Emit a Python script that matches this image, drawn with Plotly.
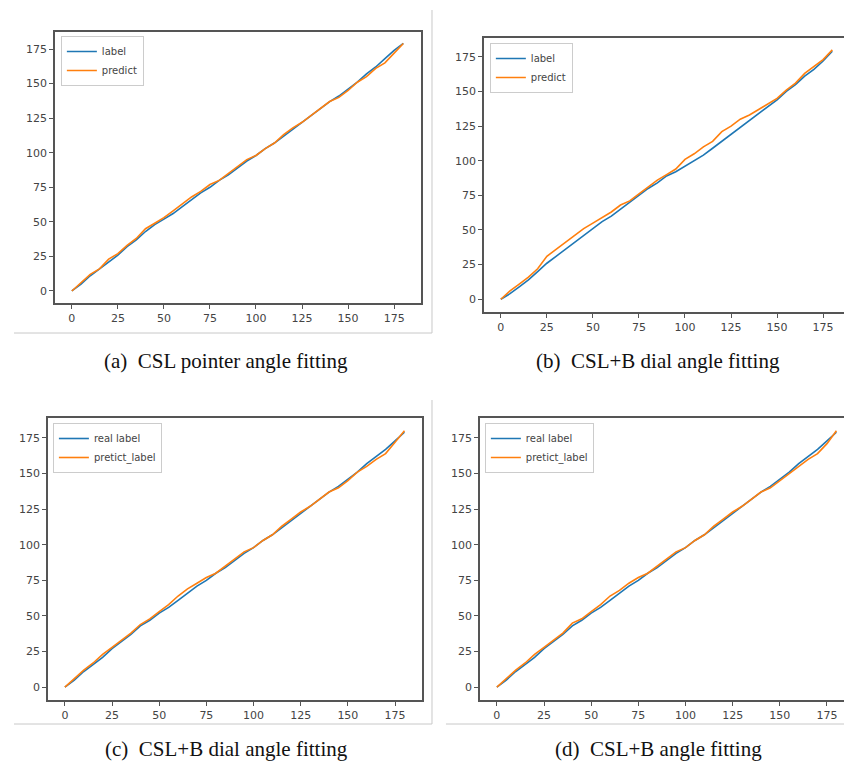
import plotly.graph_objects as go

# The page body has an 8px default margin, so the figure is sized to fit the
# window and all pixel positions below are given in window pixels.
WIN_W, WIN_H = 852, 764
OFF = 8
W, H = WIN_W - OFF, WIN_H - OFF

ANGLE = [0, 5, 10, 15, 20, 25, 30, 35, 40, 45, 50, 55, 60, 65, 70, 75, 80, 85, 90,
         95, 100, 105, 110, 115, 120, 125, 130, 135, 140, 145, 150, 155, 160, 165,
         170, 175, 180]

LABEL_A = [0, 5, 11, 16, 21, 26, 32, 37, 43, 48, 52, 56, 61, 66, 71, 75, 80, 84, 89,
           94, 98, 103, 107, 112, 117, 122, 127, 132, 137, 141, 146, 151, 157, 162,
           168, 174, 179]
PRED_A = [0, 6, 12, 16, 23, 27, 33, 38, 45, 49, 53, 58, 63, 68, 72, 77, 80, 85, 90,
          95, 98, 103, 107, 113, 118, 122, 127, 132, 137, 140, 145, 151, 155, 161,
          165, 172, 179]

LABEL_B = [0, 4, 9, 14, 20, 26, 31, 36, 41, 46, 51, 56, 60, 65, 70, 75, 80, 84, 89,
           92, 96, 100, 104, 109, 114, 119, 124, 129, 134, 139, 144, 150, 155, 161,
           166, 172, 179]
PRED_B = [0, 6, 11, 16, 22, 31, 36, 41, 46, 51, 55, 59, 63, 68, 71, 76, 81, 86, 90,
          94, 101, 105, 110, 114, 121, 125, 130, 133, 137, 141, 145, 151, 156, 163,
          168, 173, 180]

LABEL_C = [0, 5, 11, 16, 21, 27, 32, 37, 43, 47, 52, 56, 61, 66, 71, 75, 80, 84, 89,
           94, 98, 103, 107, 112, 117, 122, 127, 132, 137, 141, 146, 151, 157, 162,
           167, 173, 179]
PRED_C = [0, 6, 12, 17, 23, 28, 33, 38, 44, 48, 53, 58, 64, 69, 73, 77, 80, 85, 90,
          95, 98, 103, 107, 113, 118, 123, 127, 132, 137, 140, 145, 151, 155, 160,
          164, 172, 180]

LABEL_D = [0, 5, 11, 16, 21, 27, 32, 37, 43, 47, 52, 56, 61, 66, 71, 75, 80, 84, 89,
           94, 98, 103, 107, 112, 117, 122, 127, 132, 137, 141, 146, 151, 157, 162,
           167, 173, 179]
PRED_D = [0, 6, 12, 17, 23, 28, 33, 38, 45, 48, 53, 58, 64, 68, 73, 77, 80, 85, 90,
          95, 98, 103, 107, 113, 118, 123, 127, 132, 137, 140, 145, 150, 155, 160,
          164, 171, 180]

NAMES_AB = ["label", "predict"]
NAMES_CD = ["real label", "pretict_label"]
CAPTIONS = ["(a)  CSL pointer angle fitting", "(b)  CSL+B dial angle fitting",
            "(c)  CSL+B dial angle fitting", "(d)  CSL+B angle fitting"]
TICKS = [0, 25, 50, 75, 100, 125, 150, 175]

BLUE = "#1f77b4"
ORANGE = "#ff7f0e"


def fx(px):
    return (px - OFF) / W


def fy(py):
    return 1 - (py - OFF) / H


# panel geometry in window pixels
panels = [
    dict(l=55, r=422, t=32, b=303, xr=[-9.2, 189.6], yr=[-8.7, 187.3],
         lab=LABEL_A, pre=PRED_A, names=NAMES_AB, leg=(61, 36)),
    dict(l=485, r=852, t=38, b=312, xr=[-9.2, 189.6], yr=[-9.2, 188.6],
         lab=LABEL_B, pre=PRED_B, names=NAMES_AB, leg=(491, 43)),
    dict(l=48, r=423, t=418, b=700, xr=[-9.0, 189.3], yr=[-9.0, 189.0],
         lab=LABEL_C, pre=PRED_C, names=NAMES_CD, leg=(53, 423)),
    dict(l=481, r=852, t=418, b=700, xr=[-9.0, 187.2], yr=[-9.0, 189.0],
         lab=LABEL_D, pre=PRED_D, names=NAMES_CD, leg=(486, 423)),
]

fig = go.Figure()
layout = dict(
    width=W, height=H, margin=dict(l=0, r=0, t=0, b=0),
    paper_bgcolor="white", plot_bgcolor="white",
    font=dict(family="DejaVu Sans", size=11, color="#444"),
)

for i, p in enumerate(panels):
    n = "" if i == 0 else str(i + 1)
    xa, ya = "x" + n, "y" + n
    lg = "legend" + n
    for vals, name, col in ((p["lab"], p["names"][0], BLUE),
                            (p["pre"], p["names"][1], ORANGE)):
        fig.add_trace(go.Scatter(
            x=ANGLE, y=vals, mode="lines", name=name,
            line=dict(color=col, width=1.6), xaxis=xa, yaxis=ya, legend=lg,
        ))
    axis_common = dict(
        showgrid=False, zeroline=False, showline=True, mirror=True,
        linecolor="#555", linewidth=1.5, ticks="outside", ticklen=4,
        tickwidth=1, tickcolor="#555", tickvals=TICKS,
        tickfont=dict(family="DejaVu Sans", size=11, color="#444"),
    )
    layout["xaxis" + n] = dict(axis_common, domain=[fx(p["l"]), min(1, fx(p["r"]))],
                               range=p["xr"], anchor=ya)
    layout["yaxis" + n] = dict(axis_common, domain=[fy(p["b"]), fy(p["t"])],
                               range=p["yr"], anchor=xa)
    layout[lg] = dict(
        x=fx(p["leg"][0]), y=fy(p["leg"][1]), xanchor="left", yanchor="top",
        bgcolor="rgba(255,255,255,0.9)", bordercolor="#ccc", borderwidth=1,
        font=dict(family="DejaVu Sans", size=10, color="#444"),
        itemwidth=30, tracegroupgap=0,
    )

fig.update_layout(**layout)

# captions
cap_pos = [(227, 361), (660, 361), (227, 749), (660, 749)]
for txt, (cx, cy) in zip(CAPTIONS, cap_pos):
    fig.add_annotation(
        text=txt, x=fx(cx), y=fy(cy), xref="paper", yref="paper",
        showarrow=False, xanchor="center", yanchor="middle",
        font=dict(family="Liberation Serif", size=21, color="#111"),
    )

# light page-frame lines around the screenshots
frame = "#c8c8c8"
lines = [
    (433, 10, 433, 333), (14, 333, 433, 333),
    (433, 400, 433, 724), (14, 724, 433, 724), (447, 724, 852, 724),
]
for x0, y0, x1, y1 in lines:
    fig.add_shape(type="line", xref="paper", yref="paper",
                  x0=fx(x0), y0=fy(y0), x1=min(1, fx(x1)), y1=fy(y1),
                  line=dict(color=frame, width=1))

fig.write_html("out.html")
